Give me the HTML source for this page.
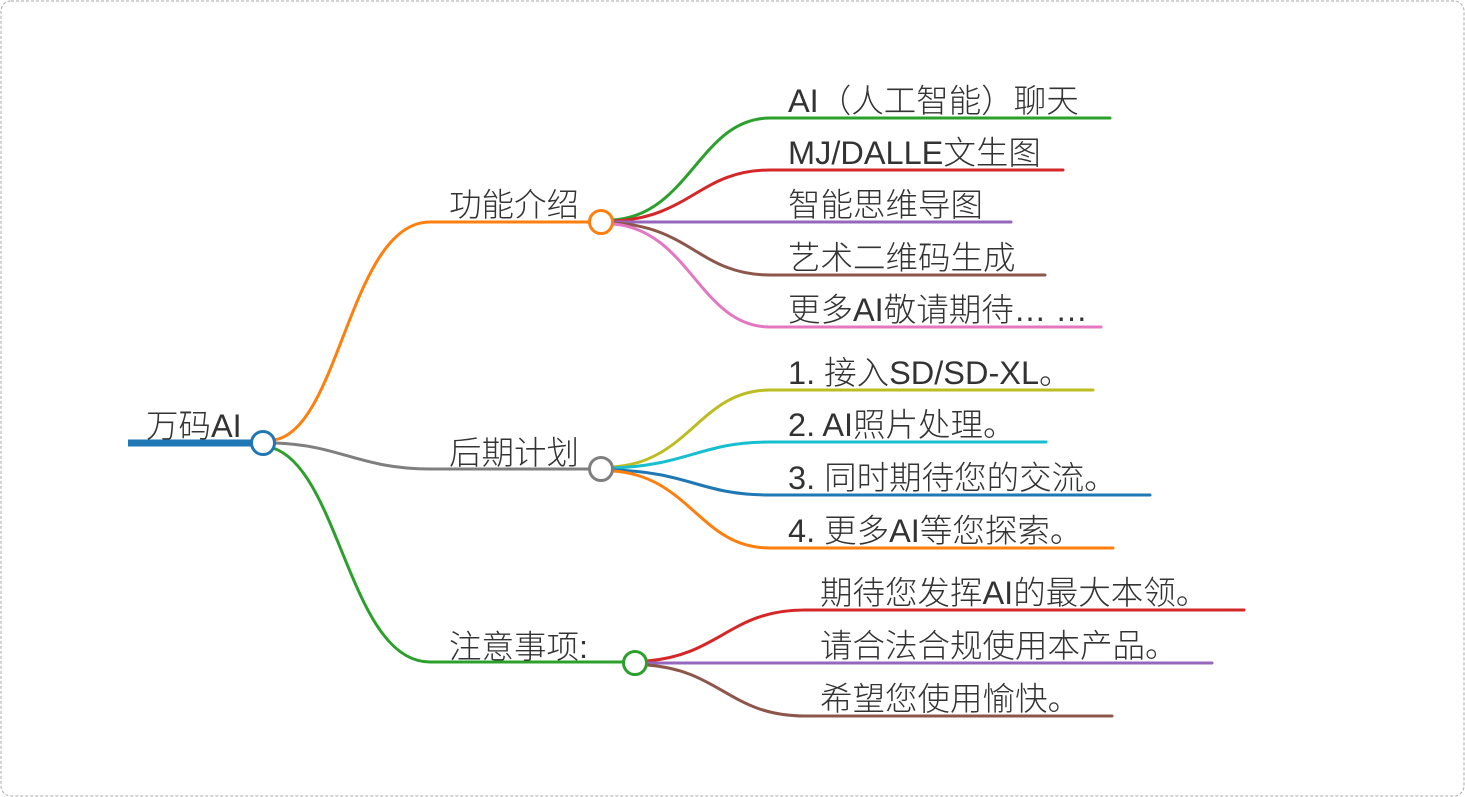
<!DOCTYPE html>
<html><head><meta charset="utf-8"><style>
html,body{margin:0;padding:0;background:#fff;}
svg{display:block}
text{font-family:"Liberation Sans","Noto Sans CJK SC",sans-serif;font-size:32.5px;font-weight:300;fill:#333;}
</style></head><body>
<svg width="1465" height="797" viewBox="0 0 1465 797" xmlns="http://www.w3.org/2000/svg">
<rect x="1" y="1" width="1463" height="795" rx="10" fill="none" stroke="#aaa" stroke-width="1" stroke-dasharray="3,2"/>
<g fill="none" stroke-width="3" stroke-linecap="round">
<path d="M274,440 C340,430 350,222 430,222 L590,222" stroke="#ff7f0e"/>
<path d="M275,443 C340,445 360,469 430,469 L589,469" stroke="#7f7f7f"/>
<path d="M273,448 C340,470 350,662 430,662 L623,662" stroke="#2ca02c"/>
<path d="M613,220 C690,215 700,118 770,118 L1110,118" stroke="#2ca02c"/>
<path d="M613,221 C690,218 700,170 770,170 L1063,170" stroke="#d62728"/>
<path d="M613,222 L1011,222" stroke="#9467bd"/>
<path d="M613,223 C690,226 700,275 770,275 L1045,275" stroke="#8c564b"/>
<path d="M613,224 C690,230 700,327 770,327 L1101,327" stroke="#e377c2"/>
<path d="M613,467 C690,462 700,390 770,390 L1093,390" stroke="#bcbd22"/>
<path d="M613,468 C690,465 700,442 770,442 L1046,442" stroke="#17becf"/>
<path d="M613,470 C690,472 700,495 770,495 L1150,495" stroke="#1f77b4"/>
<path d="M613,471 C690,476 700,548 770,548 L1113,548" stroke="#ff7f0e"/>
<path d="M647,661 C720,655 730,610 805,610 L1244,610" stroke="#d62728"/>
<path d="M647,663 L1212,663" stroke="#9467bd"/>
<path d="M647,665 C720,670 730,716 805,716 L1112,716" stroke="#8c564b"/>
</g>
<line x1="128" y1="443" x2="252" y2="443" stroke="#1f77b4" stroke-width="7"/>
<g fill="#fff" stroke-width="3">
<circle cx="263" cy="443" r="11.5" stroke="#1f77b4"/>
<circle cx="601" cy="222" r="11.5" stroke="#ff7f0e"/>
<circle cx="601" cy="469" r="11.5" stroke="#7f7f7f"/>
<circle cx="635" cy="663" r="11.5" stroke="#2ca02c"/>
</g>
<text x="146" y="437">万码AI</text>
<text x="449" y="216">功能介绍</text>
<text x="449" y="464">后期计划</text>
<text x="449" y="658">注意事项:</text>
<text x="788" y="112">AI（人工智能）聊天</text>
<text x="788" y="164">MJ/DALLE文生图</text>
<text x="788" y="216">智能思维导图</text>
<text x="788" y="269">艺术二维码生成</text>
<text x="788" y="321">更多AI敬请期待… …</text>
<text x="788" y="384">1. 接入SD/SD-XL。</text>
<text x="788" y="436">2. AI照片处理。</text>
<text x="788" y="489">3. 同时期待您的交流。</text>
<text x="788" y="542">4. 更多AI等您探索。</text>
<text x="820" y="604">期待您发挥AI的最大本领。</text>
<text x="820" y="657">请合法合规使用本产品。</text>
<text x="820" y="710">希望您使用愉快。</text>
</svg>
</body></html>
